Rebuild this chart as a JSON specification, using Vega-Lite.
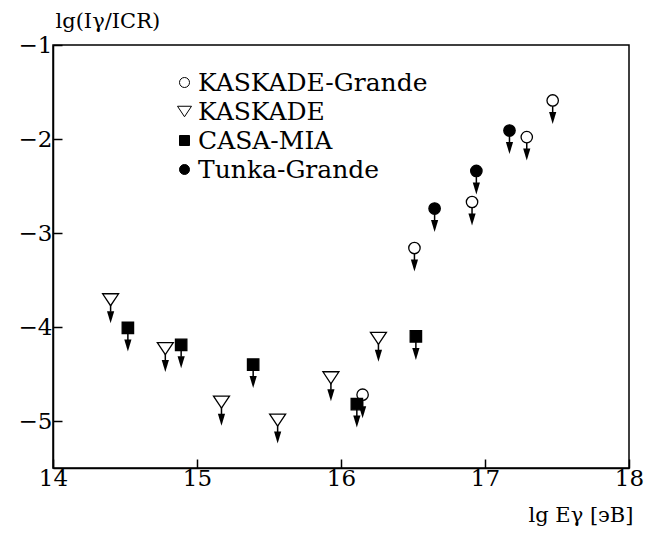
{
  "$schema": "https://vega.github.io/schema/vega-lite/v6.json",
  "width": 576,
  "height": 423,
  "autosize": "none",
  "padding": {"left": 53, "top": 45, "right": 23, "bottom": 68},
  "background": "white",
  "config": {
    "font": "DejaVu Serif",
    "view": {"stroke": "black", "strokeWidth": 1.5},
    "axis": {
      "domainColor": "black", "domainWidth": 1.5,
      "tickColor": "black", "tickWidth": 1.5,
      "labelColor": "black", "labelFont": "DejaVu Serif", "labelFontSize": 23,
      "labelFlush": false, "labelOverlap": false, "labelBound": false,
      "grid": false,
      "titleFont": "DejaVu Serif", "titleFontWeight": "normal", "titleFontSize": 21, "titleColor": "black"
    },
    "legend": {
      "labelFont": "DejaVu Serif", "labelFontSize": 25, "labelColor": "black", "labelLimit": 0
    }
  },
  "data": {
    "values": [
      {"series": "KASKADE-Grande", "lgE": 16.15, "lgI": -4.72},
      {"series": "KASKADE-Grande", "lgE": 16.51, "lgI": -3.16},
      {"series": "KASKADE-Grande", "lgE": 16.91, "lgI": -2.67},
      {"series": "KASKADE-Grande", "lgE": 17.29, "lgI": -1.98},
      {"series": "KASKADE-Grande", "lgE": 17.47, "lgI": -1.59},
      {"series": "KASKADE", "lgE": 14.40, "lgI": -3.71},
      {"series": "KASKADE", "lgE": 14.78, "lgI": -4.23},
      {"series": "KASKADE", "lgE": 15.17, "lgI": -4.80},
      {"series": "KASKADE", "lgE": 15.56, "lgI": -4.99},
      {"series": "KASKADE", "lgE": 15.93, "lgI": -4.54},
      {"series": "KASKADE", "lgE": 16.26, "lgI": -4.12},
      {"series": "CASA-MIA", "lgE": 14.52, "lgI": -4.01},
      {"series": "CASA-MIA", "lgE": 14.89, "lgI": -4.19},
      {"series": "CASA-MIA", "lgE": 15.39, "lgI": -4.40},
      {"series": "CASA-MIA", "lgE": 16.11, "lgI": -4.82},
      {"series": "CASA-MIA", "lgE": 16.52, "lgI": -4.10},
      {"series": "Tunka-Grande", "lgE": 16.65, "lgI": -2.74},
      {"series": "Tunka-Grande", "lgE": 16.94, "lgI": -2.34},
      {"series": "Tunka-Grande", "lgE": 17.17, "lgI": -1.91}
    ]
  },
  "encoding": {
    "x": {
      "field": "lgE", "type": "quantitative",
      "scale": {"domain": [14, 18], "nice": false, "zero": false},
      "axis": {
        "values": [14, 15, 16, 17, 18], "format": "d",
        "tickSize": -9, "labelPadding": 8,
        "title": "lg Eγ [эВ]", "titleAnchor": "end", "titleAlign": "right",
        "titleX": 580, "titleY": 47, "titleBaseline": "middle"
      }
    },
    "y": {
      "field": "lgI", "type": "quantitative",
      "scale": {"domain": [-5.5, -1], "nice": false, "zero": false},
      "axis": {
        "values": [-5, -4, -3, -2, -1], "format": "d",
        "tickSize": -9, "labelPadding": 10,
        "title": "lg(Iγ/ICR)", "titleAngle": 0, "titleAlign": "left",
        "titleBaseline": "middle", "titleX": 2, "titleY": -24
      }
    }
  },
  "layer": [
    {
      "mark": {"type": "rule", "stroke": "black", "strokeWidth": 1.5, "y2Offset": 12},
      "encoding": {"y2": {"field": "lgI"}}
    },
    {
      "mark": {"type": "point", "shape": "M-0.6,-1L0.6,-1L0,1Z", "filled": true, "color": "black", "size": 144, "yOffset": 17.5, "opacity": 1}
    },
    {
      "mark": {"type": "point", "filled": true, "strokeWidth": 1.3, "size": 130, "opacity": 1},
      "encoding": {
        "shape": {
          "field": "series", "type": "nominal",
          "scale": {
            "domain": ["KASKADE-Grande", "KASKADE", "CASA-MIA", "Tunka-Grande"],
            "range": ["circle", "M-1.4,-1.05L1.4,-1.05L0,1.05Z", "square", "circle"]
          },
          "legend": {
            "orient": "none", "legendX": 119, "legendY": 25, "title": null,
            "symbolSize": 100, "symbolStrokeWidth": 1,
            "rowPadding": 3, "labelOffset": 1, "labelLimit": 0
          }
        },
        "fill": {
          "field": "series", "type": "nominal",
          "scale": {
            "domain": ["KASKADE-Grande", "KASKADE", "CASA-MIA", "Tunka-Grande"],
            "range": ["white", "white", "black", "black"]
          },
          "legend": {
            "orient": "none", "legendX": 119, "legendY": 25, "title": null,
            "symbolSize": 100, "symbolStrokeWidth": 1,
            "rowPadding": 3, "labelOffset": 1, "labelLimit": 0
          }
        },
        "stroke": {
          "field": "series", "type": "nominal",
          "scale": {
            "domain": ["KASKADE-Grande", "KASKADE", "CASA-MIA", "Tunka-Grande"],
            "range": ["black", "black", "black", "black"]
          },
          "legend": {
            "orient": "none", "legendX": 119, "legendY": 25, "title": null,
            "symbolSize": 100, "symbolStrokeWidth": 1,
            "rowPadding": 3, "labelOffset": 1, "labelLimit": 0
          }
        }
      }
    }
  ]
}
